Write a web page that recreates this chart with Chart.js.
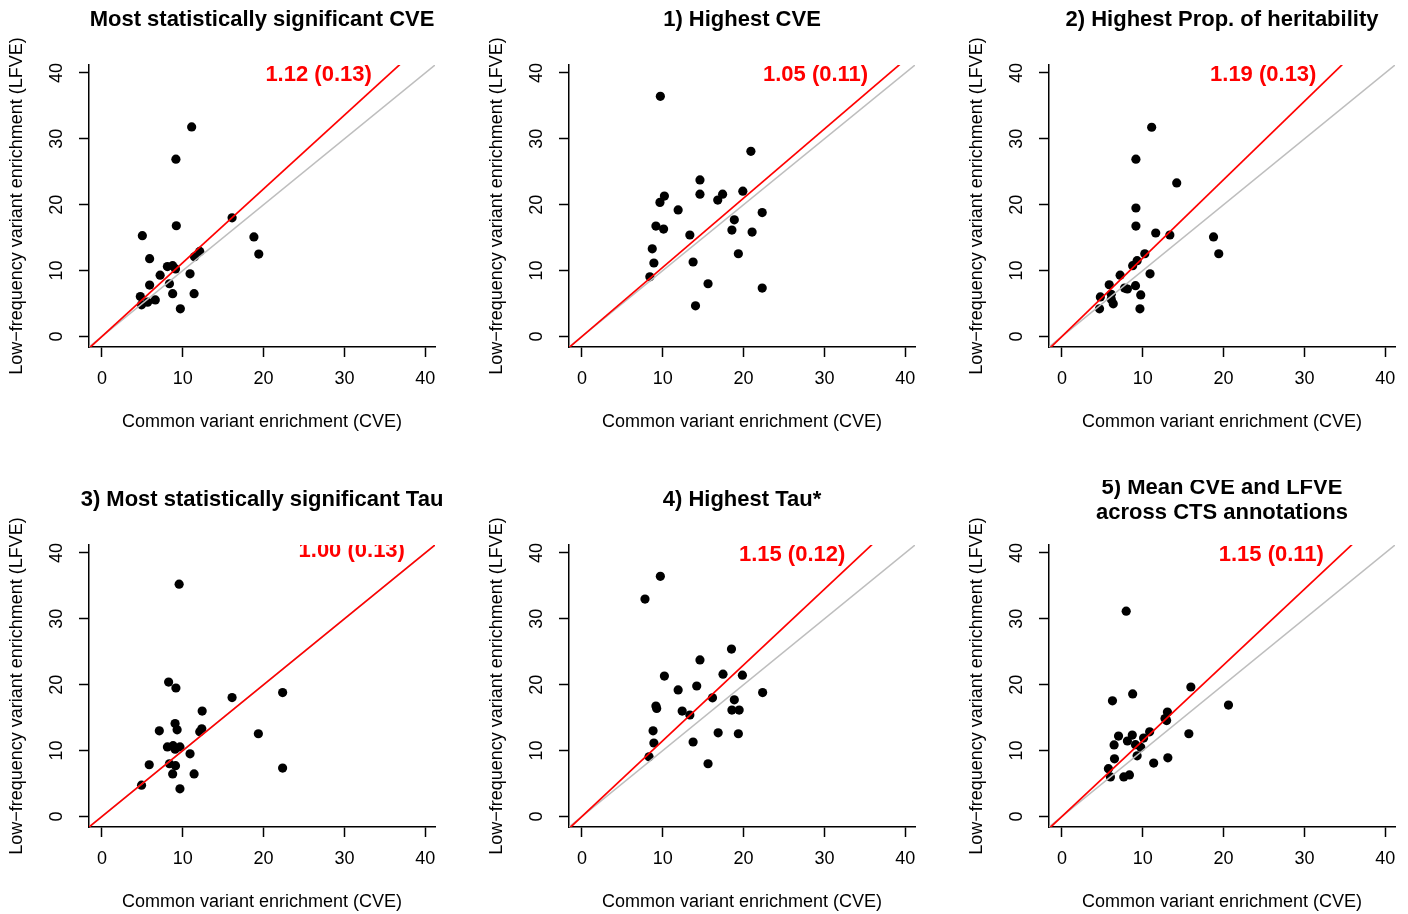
<!DOCTYPE html>
<html>
<head>
<meta charset="utf-8">
<script src="https://cdn.jsdelivr.net/npm/chart.js@4.4.1/dist/chart.umd.min.js"></script>
<style>
  html, body { margin: 0; padding: 0; background: #ffffff; }
  #grid { position: relative; width: 1408px; height: 914px; overflow: hidden; }
  .cell { position: absolute; width: 480px; height: 480px; }
</style>
</head>
<body>
<div id="grid"></div>
<script>
// ---- panel headings and regression summaries ----
const panelTitles = [
  ["Most statistically significant CVE"],
  ["1) Highest CVE"],
  ["2) Highest Prop. of heritability"],
  ["3) Most statistically significant Tau"],
  ["4) Highest Tau*"],
  ["5) Mean CVE and LFVE", "across CTS annotations"]
];
const slopes   = [1.12, 1.05, 1.19, 1.00, 1.15, 1.15];
const slopeSE  = [0.13, 0.11, 0.13, 0.13, 0.12, 0.11];
// where each slope label sits, in data units
const labelAtX = [26.8, 28.9, 24.9, 30.9, 26.0, 25.9];
const labelAtY = [40.0, 40.0, 40.0, 40.6, 40.0, 40.0];

const axisTicks = [0, 10, 20, 30, 40];
const xTitle = "Common variant enrichment (CVE)";
const yTitle = "Low\u2212frequency variant enrichment (LFVE)";

// ---- per-panel enrichment estimates (CVE on x, LFVE on y) ----
const cve1  = [11.1, 9.15, 9.2, 16.1, 5.0, 18.8, 19.4, 12.1, 11.45, 5.9, 8.1, 8.75, 9.1, 7.2, 10.9, 5.9, 8.35, 4.75, 8.75, 11.4, 6.6, 5.65, 4.9, 9.7];
const lfve1 = [31.8, 26.9, 16.8, 18.0, 15.3, 15.1, 12.5, 12.9, 12.1, 11.8, 10.6, 10.75, 10.25, 9.3, 9.5, 7.8, 8.0, 6.05, 6.5, 6.5, 5.55, 5.2, 4.8, 4.2];

const cve2  = [9.7, 20.9, 14.6, 10.2, 14.6, 17.4, 16.8, 19.9, 9.65, 11.9, 22.3, 18.85, 9.15, 10.1, 18.55, 21.05, 13.35, 8.7, 19.35, 8.9, 13.75, 8.4, 15.6, 22.3, 14.05];
const lfve2 = [36.45, 28.1, 23.75, 21.3, 21.6, 21.6, 20.7, 22.05, 20.35, 19.2, 18.8, 17.7, 16.75, 16.3, 16.15, 15.85, 15.4, 13.3, 12.55, 11.15, 11.3, 9.05, 8.0, 7.35, 4.65];

const cve3  = [11.1, 9.15, 14.2, 9.15, 9.15, 11.6, 13.35, 18.75, 19.4, 10.25, 9.3, 8.75, 7.2, 10.9, 5.85, 7.75, 8.1, 9.1, 4.75, 6.1, 9.75, 6.1, 6.35, 4.65, 9.65];
const lfve3 = [31.75, 26.9, 23.3, 19.5, 16.75, 15.7, 15.4, 15.1, 12.55, 12.55, 11.5, 10.75, 9.3, 9.5, 7.85, 7.35, 7.2, 7.7, 6.0, 6.4, 6.3, 5.65, 4.95, 4.2, 4.2];

const cve4  = [9.55, 8.25, 9.15, 16.1, 22.35, 12.4, 9.05, 7.1, 9.3, 12.35, 12.1, 19.35, 8.1, 8.8, 9.65, 9.05, 10.9, 5.85, 8.35, 9.1, 8.75, 11.4, 22.35, 4.9, 9.65];
const lfve4 = [35.25, 20.4, 19.5, 18.05, 18.8, 16.0, 14.1, 13.0, 13.15, 13.3, 12.85, 12.55, 10.55, 10.75, 10.55, 10.2, 9.5, 7.85, 8.0, 7.7, 6.45, 6.45, 7.35, 4.75, 4.2];

const cve5  = [9.7, 7.8, 18.5, 14.6, 10.2, 17.45, 19.85, 14.2, 11.9, 22.35, 16.15, 18.85, 9.15, 9.25, 12.4, 18.55, 19.45, 13.35, 8.8, 16.85, 19.35, 8.9, 13.75, 8.3, 15.6];
const lfve5 = [36.45, 33.0, 25.4, 23.75, 21.3, 21.6, 21.45, 19.8, 19.2, 18.8, 18.0, 17.7, 16.75, 16.4, 16.0, 16.15, 16.15, 15.4, 13.0, 12.7, 12.55, 11.15, 11.3, 9.05, 8.0];

const cve6  = [7.95, 15.95, 8.75, 6.25, 20.6, 13.05, 12.95, 12.75, 10.85, 7.0, 8.7, 10.1, 15.7, 8.1, 6.45, 9.1, 9.75, 9.3, 6.5, 13.1, 11.35, 5.75, 6.0, 7.65, 8.35];
const lfve6 = [31.15, 19.65, 18.6, 17.55, 16.9, 15.85, 14.55, 14.85, 12.85, 12.2, 12.35, 11.9, 12.55, 11.45, 10.85, 10.9, 10.5, 9.2, 8.75, 8.9, 8.1, 7.25, 6.0, 6.0, 6.3];

const cveSets  = [cve1, cve2, cve3, cve4, cve5, cve6];
const lfveSets = [lfve1, lfve2, lfve3, lfve4, lfve5, lfve6];

// ---- drawing setup ----
const FONT = '"Liberation Sans", Arial, Helvetica, sans-serif';
const BASE_PX = 18;
const MAIN_PX = 22;
const AX_MIN = -1.6, AX_MAX = 41.2;
const CELL = 480;

Chart.defaults.font.family = FONT;
Chart.defaults.color = '#000';

// Panel heading above the plot and the red slope label inside it
const panelText = {
  id: 'panelText',
  afterDatasetsDraw(chart, args, opts) {
    const { ctx, chartArea: a, scales: { x, y } } = chart;
    ctx.save();
    ctx.beginPath();
    ctx.rect(a.left, a.top, a.right - a.left, a.bottom - a.top);
    ctx.clip();
    ctx.font = `bold ${MAIN_PX}px ${FONT}`;
    ctx.fillStyle = '#FF0000';
    ctx.textAlign = 'center';
    ctx.textBaseline = 'alphabetic';
    ctx.fillText(opts.label, x.getPixelForValue(opts.lx), y.getPixelForValue(opts.ly) + 0.358 * MAIN_PX);
    ctx.restore();
  },
  afterDraw(chart, args, opts) {
    const { ctx, chartArea: a } = chart;
    const cx = (a.left + a.right) / 2;
    ctx.save();
    ctx.font = `bold ${MAIN_PX}px ${FONT}`;
    ctx.fillStyle = '#000';
    ctx.textAlign = 'center';
    ctx.textBaseline = 'alphabetic';
    const lines = opts.title;
    const baselines = lines.length === 1 ? [26] : [14.3, 39];
    lines.forEach((t, i) => ctx.fillText(t, cx, baselines[i]));
    ctx.restore();
  }
};

function setTicks(scale) {
  scale.ticks = axisTicks.map(v => ({ value: v }));
}

const grid = document.getElementById('grid');

panelTitles.forEach((title, i) => {
  const cell = document.createElement('div');
  cell.className = 'cell';
  cell.style.left = (i % 3) * CELL + 'px';
  cell.style.top = Math.floor(i / 3) * CELL + 'px';
  const canvas = document.createElement('canvas');
  canvas.width = CELL; canvas.height = CELL;
  canvas.style.width = CELL + 'px'; canvas.style.height = CELL + 'px';
  cell.appendChild(canvas);
  grid.appendChild(cell);

  const pts = cveSets[i].map((v, k) => ({ x: v, y: lfveSets[i][k] }));
  const s = slopes[i];

  new Chart(canvas, {
    type: 'scatter',
    data: {
      datasets: [
        {
          type: 'scatter',
          data: pts,
          pointRadius: 4.6,
          pointBackgroundColor: '#000',
          pointBorderColor: '#000',
          pointBorderWidth: 0,
          order: 3
        },
        {
          type: 'line',
          data: [{ x: AX_MIN, y: AX_MIN }, { x: AX_MAX, y: AX_MAX }],
          borderColor: '#BEBEBE',
          borderWidth: 1.5,
          pointRadius: 0,
          order: 2
        },
        {
          type: 'line',
          data: [{ x: AX_MIN, y: AX_MIN * s }, { x: AX_MAX, y: AX_MAX * s }],
          borderColor: '#FF0000',
          borderWidth: 1.7,
          pointRadius: 0,
          order: 1
        }
      ]
    },
    options: {
      responsive: false,
      animation: false,
      events: [],
      layout: { padding: { left: 0, top: 65, right: 45, bottom: 43 } },
      plugins: {
        legend: { display: false },
        tooltip: { enabled: false },
        panelText: {
          title: title,
          label: slopes[i].toFixed(2) + ' (' + slopeSE[i].toFixed(2) + ')',
          lx: labelAtX[i],
          ly: labelAtY[i]
        }
      },
      scales: {
        x: {
          type: 'linear',
          position: 'bottom',
          min: AX_MIN, max: AX_MAX,
          afterBuildTicks: setTicks,
          afterFit: sc => { sc.height = 90; },
          grid: { drawOnChartArea: false, drawTicks: true, tickLength: 10, tickColor: '#000', tickWidth: 1.5 },
          border: { display: true, color: '#000', width: 1.5 },
          ticks: { color: '#000', font: { size: BASE_PX, family: FONT }, padding: 11.7, maxRotation: 0, autoSkip: false },
          title: { display: true, text: xTitle, color: '#000', font: { size: BASE_PX, family: FONT }, padding: { top: 0, bottom: 4.5 } }
        },
        y: {
          type: 'linear',
          position: 'left',
          min: AX_MIN, max: AX_MAX,
          afterBuildTicks: setTicks,
          afterFit: sc => { sc.width = 89; },
          grid: { drawOnChartArea: false, drawTicks: true, tickLength: 10, tickColor: '#000', tickWidth: 1.5 },
          border: { display: true, color: '#000', width: 1.5 },
          ticks: { color: '#000', font: { size: BASE_PX, family: FONT }, padding: 12.3, minRotation: 90, maxRotation: 90, crossAlign: 'center', autoSkip: false },
          title: { display: true, text: yTitle, color: '#000', font: { size: BASE_PX, family: FONT }, padding: { top: 6.7, bottom: 0 } }
        }
      }
    },
    plugins: [panelText]
  });
});
</script>
</body>
</html>
